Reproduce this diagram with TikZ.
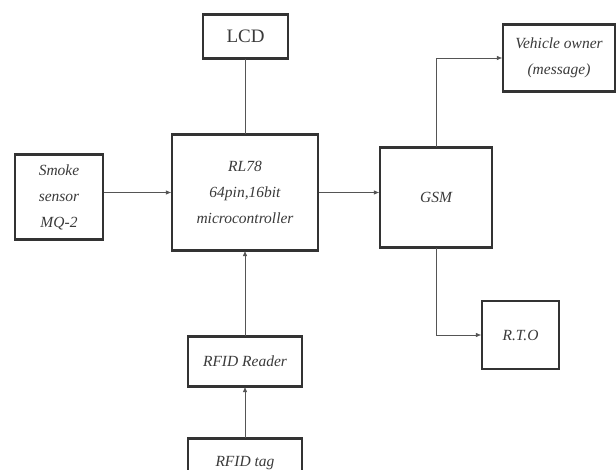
\documentclass[tikz,border=0pt]{standalone}
\usepackage{fontspec}
\setmainfont{Liberation Serif}
\usetikzlibrary{arrows.meta}
\definecolor{boxline}{HTML}{333333}
\definecolor{wire}{HTML}{555555}
\definecolor{txt}{HTML}{3A3A3A}
\begin{document}
\begin{tikzpicture}[x=1pt,y=-1pt,
  blk/.style={draw=boxline,line width=1.3pt,rectangle,inner sep=0pt,align=center,
    text=txt,font=\fontsize{15.5}{26}\selectfont\itshape},
  edge/.style={draw=boxline,line width=2.2pt,line cap=butt},
  wirearrow/.style={draw=wire,line width=0.7pt,-{Latex[length=5.5pt,width=4.5pt]}},
  wireplain/.style={draw=wire,line width=0.7pt}]
\useasboundingbox (0,0) rectangle (616,470);
\clip (0,0) rectangle (616,470);
\node[blk,minimum width=85pt,minimum height=43pt,font=\fontsize{19}{22}\selectfont] (lcd) at (245.5,36.5) {LCD};
\node[blk,minimum width=88pt,minimum height=84pt] (smoke) at (59,197) {Smoke\\sensor\\MQ-2};
\node[blk,minimum width=146pt,minimum height=115pt] (mcu) at (245,192.5) {RL78\\64pin,16bit\\microcontroller};
\node[blk,minimum width=112pt,minimum height=99pt] (gsm) at (436,197.5) {GSM};
\node[blk,minimum width=112pt,minimum height=66pt] (owner) at (559,58) {Vehicle owner\\(message)};
\node[blk,minimum width=77pt,minimum height=67pt] (rto) at (520.5,335) {R.T.O};
\node[blk,minimum width=114pt,minimum height=49pt] (reader) at (245,361.5) {RFID Reader};
\node[blk,minimum width=114pt,minimum height=49pt] (tag) at (245,463.5) {RFID tag};
\foreach \n in {lcd,smoke,mcu,gsm,owner,rto,reader,tag}{
  \draw[edge] (\n.north west) -- (\n.north east);
  \draw[edge] (\n.south west) -- (\n.south east);
}
\draw[wireplain] (lcd.south) -- (lcd.south |- mcu.north);
\draw[wirearrow] (smoke.east |- mcu.west) -- (mcu.west);
\draw[wirearrow] (mcu.east) -- (mcu.east -| gsm.west);
\draw[wirearrow] (gsm.north) |- (owner.west);
\draw[wirearrow] (gsm.south) |- (rto.west);
\draw[wirearrow] (reader.north) -- (reader.north |- mcu.south);
\draw[wirearrow] (tag.north) -- (tag.north |- reader.south);
\end{tikzpicture}
\end{document}
